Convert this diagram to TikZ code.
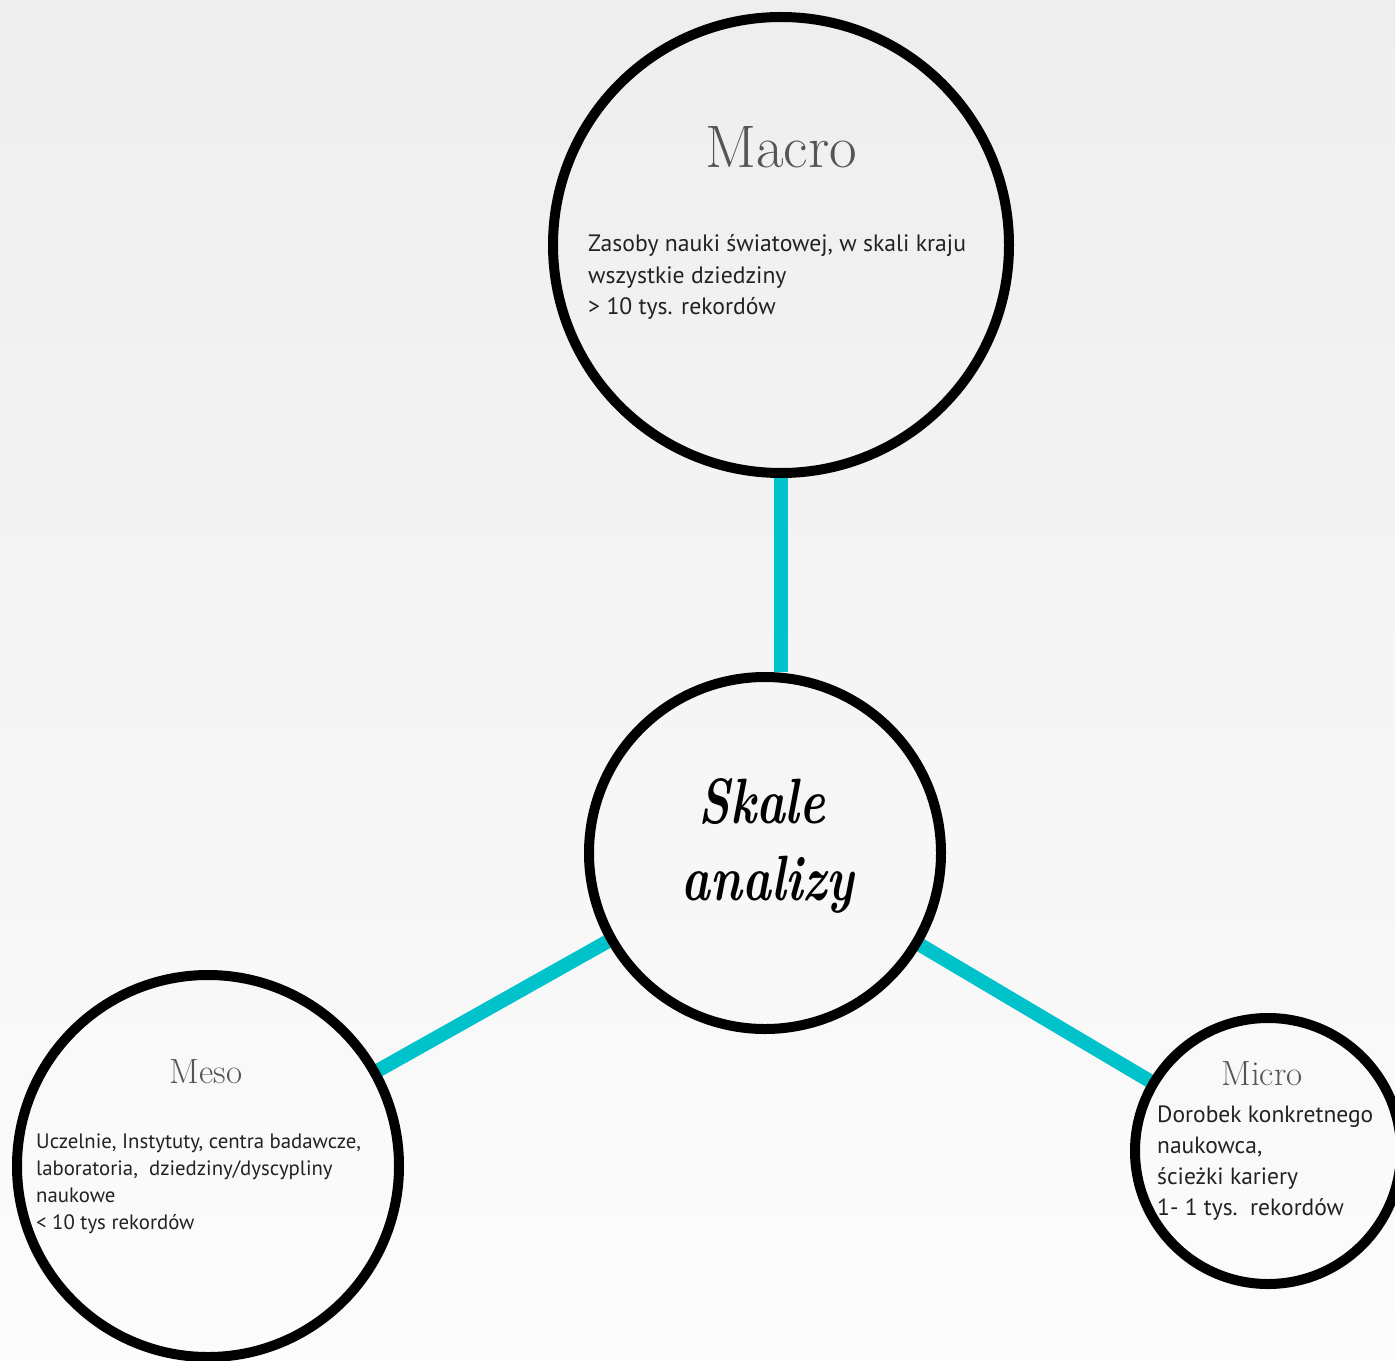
\documentclass[tikz,border=0pt]{standalone}
\usepackage{fontspec}
\newfontfamily\bodyfont{PT Sans}
\definecolor{bgtop}{HTML}{EEEEEE}
\definecolor{bgbot}{HTML}{FCFCFC}
\definecolor{linkcyan}{HTML}{00C2CB}
\definecolor{headgray}{HTML}{555555}
\definecolor{bodygray}{HTML}{222222}
\pgfdeclarelayer{bg}
\pgfdeclarelayer{links}
\pgfsetlayers{bg,links,main}
\begin{document}
\begin{tikzpicture}[x=1bp,y=-1bp,
  ring/.style={circle,draw=black,line width=10bp,minimum size=#1,inner sep=0pt},
  link/.style={draw=linkcyan,line width=14bp},
  heading/.style={text=headgray,inner sep=0pt,anchor=base},
  bodytext/.style={text=bodygray,inner sep=0pt,anchor=base west,align=left},
  title/.style={text=black,inner sep=0pt,anchor=base,font=\fontsize{64bp}{70bp}\selectfont\bfseries\itshape}]
\useasboundingbox (0,0) rectangle (1395,1361);
\begin{pgfonlayer}{bg}
  \shade[top color=bgtop,bottom color=bgbot] (0,0) rectangle (1395,1361);
\end{pgfonlayer}

% the four rings
\node[ring=456bp] (macro) at (781,245) {};
\node[ring=352bp] (centre) at (765,853) {};
\node[ring=382bp] (meso) at (208,1166) {};
\node[ring=266bp] (micro) at (1268,1151) {};

% connectors
\begin{pgfonlayer}{links}
  \draw[link] (macro.south) -- (macro.south |- centre.north);
  \draw[link] (centre) -- (meso);
  \draw[link] (centre) -- (micro);
\end{pgfonlayer}

% centre title
\node[title] (skale) at (762,823) {\scalebox{0.76}[1]{Skale}};
\node[title] (analizy) at (768,900) {\scalebox{0.76}[1]{analizy}};

% headings
\node[heading,font=\fontsize{60bp}{60bp}\selectfont] (macrohead) at (781,168) {Macro};
\node[heading,font=\fontsize{35bp}{35bp}\selectfont] (mesohead) at (206,1083) {Meso};
\node[heading,font=\fontsize{35bp}{35bp}\selectfont] (microhead) at (1262,1085) {Micro};

% descriptions (anchored on the baseline of their last line)
\node[bodytext,font=\bodyfont\fontsize{23.7bp}{31bp}\selectfont] (macrotext) at (588,314)
  {Zasoby nauki światowej, w skali kraju\\wszystkie dziedziny\\> 10 tys. rekordów};
\node[bodytext,font=\bodyfont\fontsize{20.8bp}{27bp}\selectfont] (mesotext) at (36,1229)
  {Uczelnie, Instytuty, centra badawcze,\\laboratoria,\ \ dziedziny/dyscypliny\\naukowe\\< 10 tys rekordów};
\node[bodytext,font=\bodyfont\fontsize{23.5bp}{31bp}\selectfont] (microtext) at (1157,1215)
  {Dorobek konkretnego\\naukowca,\\ścieżki kariery\\1- 1 tys.\ \ rekordów};
\end{tikzpicture}
\end{document}
